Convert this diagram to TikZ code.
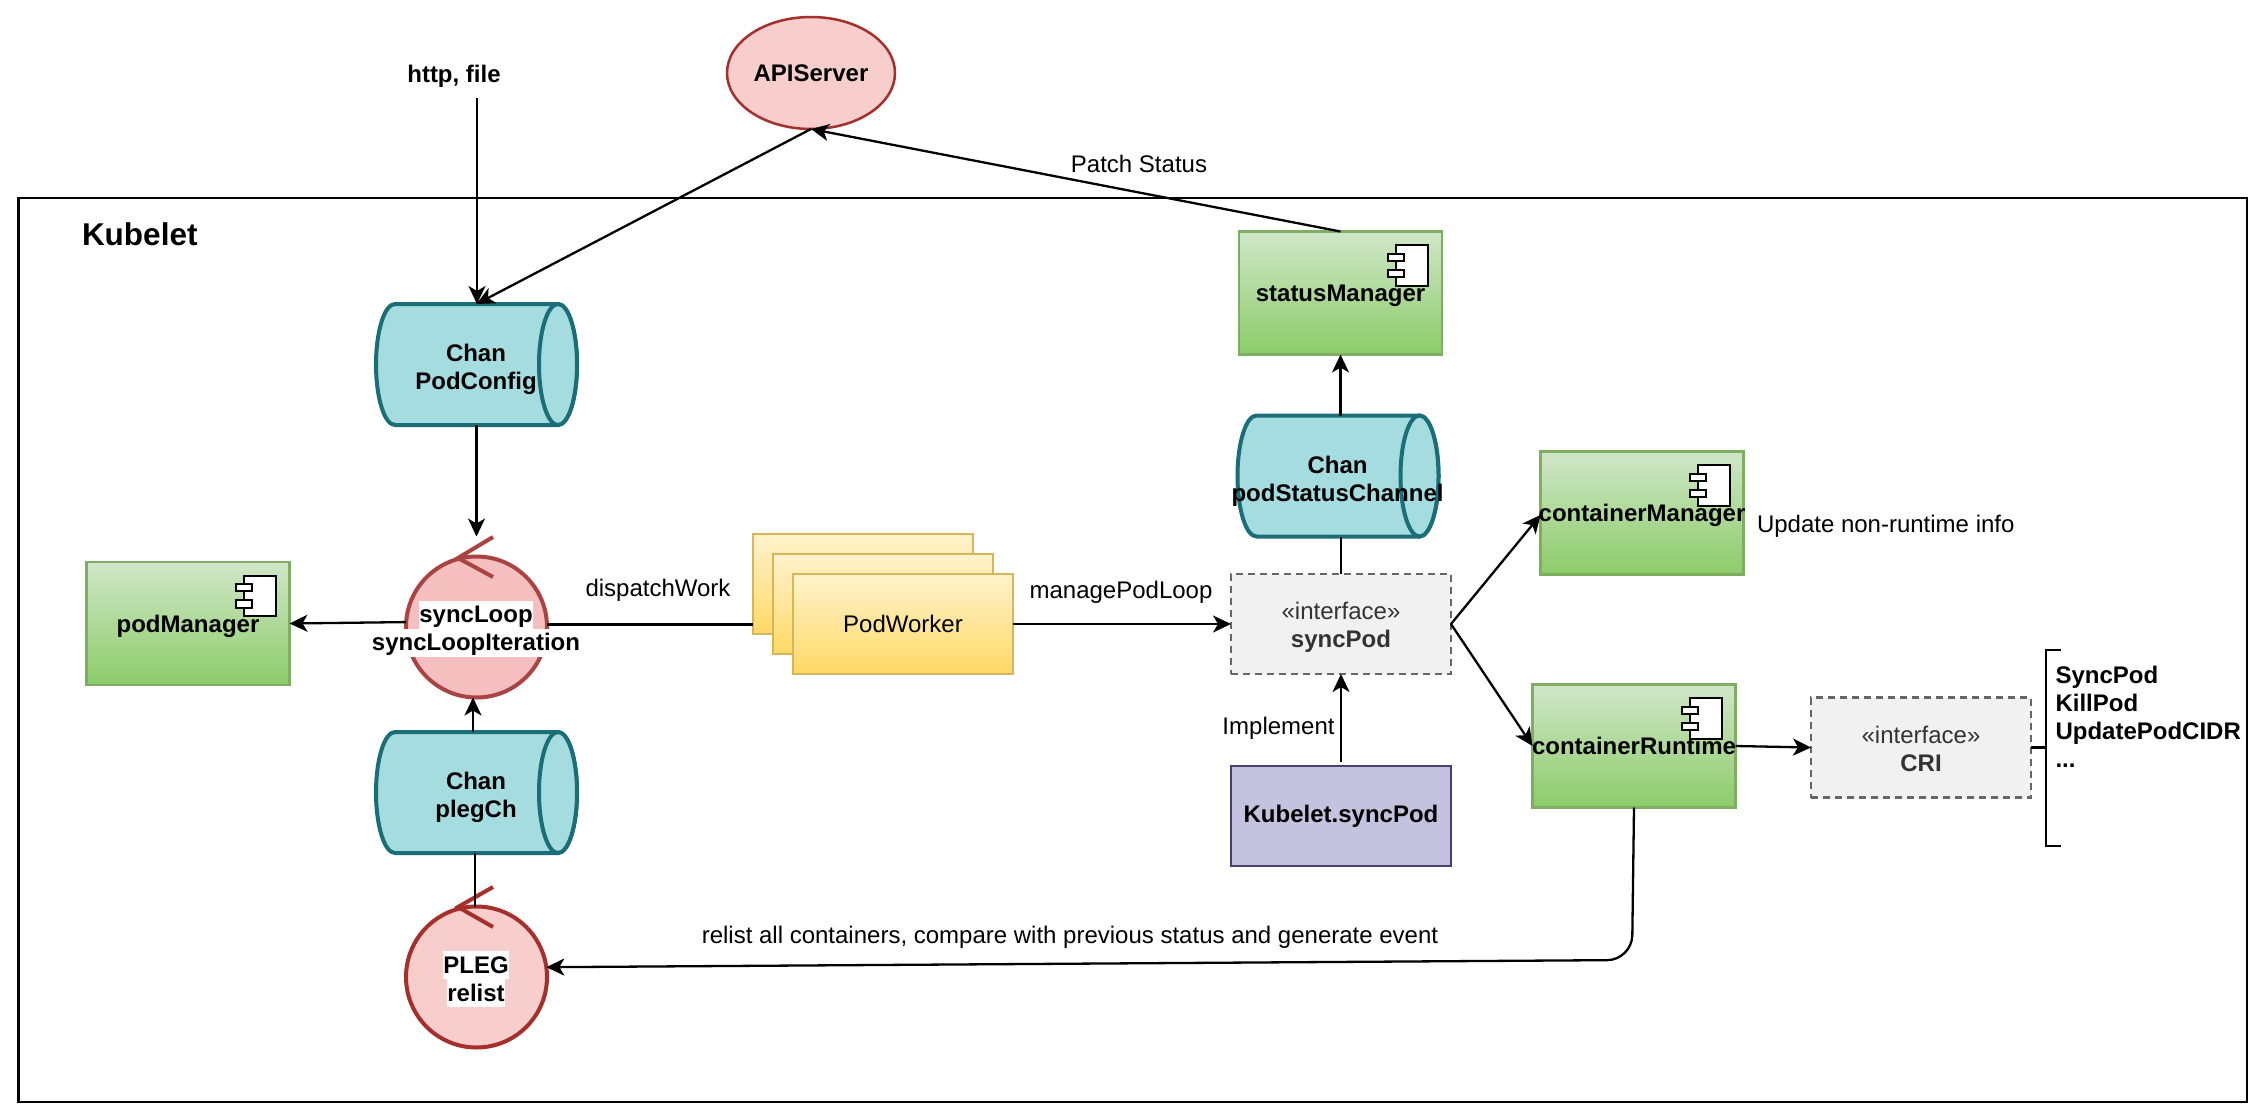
\documentclass[tikz,border=0pt]{standalone}
\usepackage{fontspec}
\setmainfont{Liberation Sans}
\usetikzlibrary{arrows.meta,calc,shapes.geometric}
\definecolor{tealline}{HTML}{1A6E77}
\definecolor{tealfill}{HTML}{A5DCDF}
\definecolor{gline}{HTML}{7FAE63}
\definecolor{gtop}{HTML}{D0E6C8}
\definecolor{gbot}{HTML}{8CCC69}
\definecolor{pinkf}{HTML}{F8CECC}
\definecolor{pinkg}{HTML}{F5BFBF}
\definecolor{redl}{HTML}{A52F2A}
\definecolor{redm}{HTML}{A94442}
\definecolor{ytop}{HTML}{FFF2CC}
\definecolor{ybot}{HTML}{FFD966}
\definecolor{yline}{HTML}{D6B656}
\definecolor{purf}{HTML}{C4C2DE}
\definecolor{purl}{HTML}{463F72}
\definecolor{ifill}{HTML}{F1F1F1}
\definecolor{idash}{HTML}{666666}
\definecolor{itext}{HTML}{333333}
\tikzset{
  base/.style={inner sep=0pt,outer sep=0pt,font=\fontsize{24}{28}\selectfont},
  boldtext/.style={base,font=\fontsize{24}{28}\selectfont\bfseries,align=center},
  plaintext/.style={base,align=center},
  comp/.style={base,draw=gline,line width=2.5pt,top color=gtop,bottom color=gbot,
    minimum width=203pt,minimum height=123pt,text height=20pt,text depth=3pt,font=\fontsize{24}{28}\selectfont\bfseries},
  iconpart/.style={draw=black,fill=white,line width=2pt},
  conn/.style={draw=black,line width=2.3pt},
  arr/.style={conn,-{Stealth[length=18pt,width=17pt,inset=5pt]}},
  tube/.style={draw=tealline,line width=4pt,fill=tealfill},
  tubeframe/.style={base,minimum width=201pt,minimum height=121pt},
  loopcircle/.style={base,circle,minimum size=141pt,line width=4pt},
  workerbox/.style={base,draw=yline,line width=2.5pt,top color=ytop,bottom color=ybot,
    minimum width=220pt,minimum height=100pt},
  ifacebox/.style={base,draw=idash,dash pattern=on 7pt off 5pt,line width=2.2pt,fill=ifill,text=itext,align=center},
  whitelabel/.style={base,fill=white,font=\fontsize{24}{28}\selectfont\bfseries,text height=20pt,text depth=4pt,inner ysep=2pt},
}
\newcommand{\compbox}[4]{%
  \node[comp] (#1) at (#2,#3) {\makebox[0pt][c]{#4}};
  \draw[iconpart] ([shift={(-46,13.7)}]#1.north east) rectangle ([shift={(-14,54)}]#1.north east);
  \draw[iconpart] ([shift={(-54,22)}]#1.north east) rectangle ([shift={(-38,29)}]#1.north east);
  \draw[iconpart] ([shift={(-54,38)}]#1.north east) rectangle ([shift={(-38,45.5)}]#1.north east);
}
\newcommand{\chantube}[4]{%
  \begin{scope}[shift={(#2,#3)}]
    \draw[tube] (-81.5,-60.5) -- (81.5,-60.5)
      .. controls (92,-60.5) and (100.5,-33.4) .. (100.5,0)
      .. controls (100.5,33.4) and (92,60.5) .. (81.5,60.5)
      -- (-81.5,60.5)
      .. controls (-92,60.5) and (-100.5,33.4) .. (-100.5,0)
      .. controls (-100.5,-33.4) and (-92,-60.5) .. (-81.5,-60.5) -- cycle;
    \draw[tube] (81.5,0) ellipse [x radius=19pt,y radius=60.5pt];
    \node[tubeframe] (#1) at (0,0) {};
    \node[boldtext] (#1-label) at (-0.5,5) {#4};
  \end{scope}
}
\begin{document}
\begin{tikzpicture}[x=1pt,y=-1pt]
\useasboundingbox (0,0) rectangle (2260,1116);
\fill[white] (0,0) rectangle (2260,1116);

% frame
\node[base,draw=black,line width=2.5pt,minimum width=2228.5pt,minimum height=904pt] (frame) at (1132.75,650) {};
\node[base,font=\fontsize{31.5}{36}\selectfont\bfseries,anchor=west] (kubelet) at (82,234) {Kubelet};

% top
\node[boldtext] (http) at (454,76.5) {http, file};
\coordinate (httpout) at (477,98);
\node[base,ellipse,draw=redl,line width=2.5pt,fill=pinkf,minimum width=168pt,minimum height=112pt,font=\fontsize{24}{28}\selectfont\bfseries] (api) at (811,73) {\raisebox{-1.5pt}{APIServer}};

% channels
\chantube{podconfig}{476.5}{364.5}{Chan\\PodConfig}
\chantube{plegch}{476.5}{792.5}{Chan\\plegCh}
\chantube{podstatus}{1338}{476}{Chan\\podStatusChannel}

% loops
\node[loopcircle,draw=redm,fill=pinkg] (syncloop) at (476.5,627) {};
\draw[redm,line width=4pt] (493,537) -- (458,558) -- (493,577);
\node[whitelabel] (syncl1) at (476,614.7) {syncLoop};
\node[whitelabel] (syncl2) at (476,642.7) {syncLoopIteration};

\node[loopcircle,draw=redl,fill=pinkf] (pleg) at (476.5,977) {};
\draw[redl,line width=4pt] (493,887) -- (458,907) -- (493,927);
\node[whitelabel] (plegl1) at (476,965) {PLEG};
\node[whitelabel] (plegl2) at (476,993) {relist};

% components
\compbox{podmanager}{188}{623.5}{podManager}
\compbox{statusmgr}{1340.5}{293}{statusManager}
\compbox{containermgr}{1642}{513}{containerManager}
\compbox{containerrt}{1634}{746}{containerRuntime}

% workers
\node[workerbox] (worker1) at (863,584) {};
\node[workerbox] (worker2) at (883,604) {};
\node[workerbox,font=\fontsize{24}{28}\selectfont] (worker3) at (903,624) {\raisebox{-1.5pt}{PodWorker}};

% interfaces
\node[ifacebox,minimum width=220pt,minimum height=100pt] (syncpod) at (1341,624) {\rule{0pt}{23pt}«interface»\\\textbf{syncPod}};
\node[base,draw=purl,line width=2.5pt,fill=purf,minimum width=220pt,minimum height=100pt,font=\fontsize{24}{28}\selectfont\bfseries] (kubeletsync) at (1341,816) {\raisebox{-1.5pt}{Kubelet.syncPod}};
\node[ifacebox,minimum width=220pt,minimum height=100pt] (cri) at (1921,747.5) {\rule{0pt}{20pt}«interface»\\\textbf{CRI}};

% CRI bracket
\coordinate (brk) at (2046,747.5);
\coordinate (brktop) at (2061,650);
\coordinate (brkbot) at (2061,846);
\draw[conn] (brktop) -- (brktop -| brk) -- (brkbot -| brk) -- (brkbot);
\draw[conn] (cri.east) -- (brk);
\node[boldtext,align=left,anchor=north west] (crilist) at (2055.5,666.5) {SyncPod\\KillPod\\UpdatePodCIDR\\...};

% text labels
\node[plaintext] (patchlbl) at (1139,163.5) {Patch Status};
\node[plaintext] (dispatchlbl) at (658,590) {dispatchWork};
\node[plaintext] (managelbl) at (1121,592) {managePodLoop};
\node[plaintext] (implementlbl) at (1278.5,728.5) {Implement};
\node[plaintext,anchor=west] (updatelbl) at (1757,526) {Update non-runtime info};
\node[plaintext] (relistlbl) at (1070,937) {relist all containers, compare with previous status and generate event};

% connectors
\draw[arr] (httpout) -- (httpout |- podconfig.north);
\draw[arr] (api.south) -- (podconfig.north);
\draw[arr] (statusmgr.north) -- (api.south);
\draw[arr] (podconfig.south) -- ($(syncloop.north)+(0,-20)$);
\draw[arr] (syncloop.176) -- (podmanager.east);
\draw[arr] ([xshift=-3.5pt]plegch.north) -- ([xshift=-3.5pt]syncloop.south);
\draw[conn] ([xshift=-1.5pt]plegch.south) -- ([xshift=-1.5pt]pleg.north);
\draw[conn] (syncloop.2.5) -- (syncloop.2.5 -| worker1.west);
\draw[arr] (worker3.east) -- (syncpod.west);
\draw[conn] (syncpod.north) -- (syncpod.north |- podstatus.south);
\draw[arr] (podstatus.north -| statusmgr.south) -- (statusmgr.south);
\draw[arr] ([yshift=4pt]kubeletsync.north) -- (syncpod.south);
\draw[arr] (syncpod.east) -- ([yshift=-2pt]containermgr.west);
\draw[arr] (syncpod.east) -- (containerrt.west);
\draw[arr] (containerrt.east) -- (cri.west);
\coordinate (relistbend) at (1632,960);
\draw[arr,rounded corners=25pt] (containerrt.south) -- (relistbend) -- (pleg.8.2);
\end{tikzpicture}
\end{document}
